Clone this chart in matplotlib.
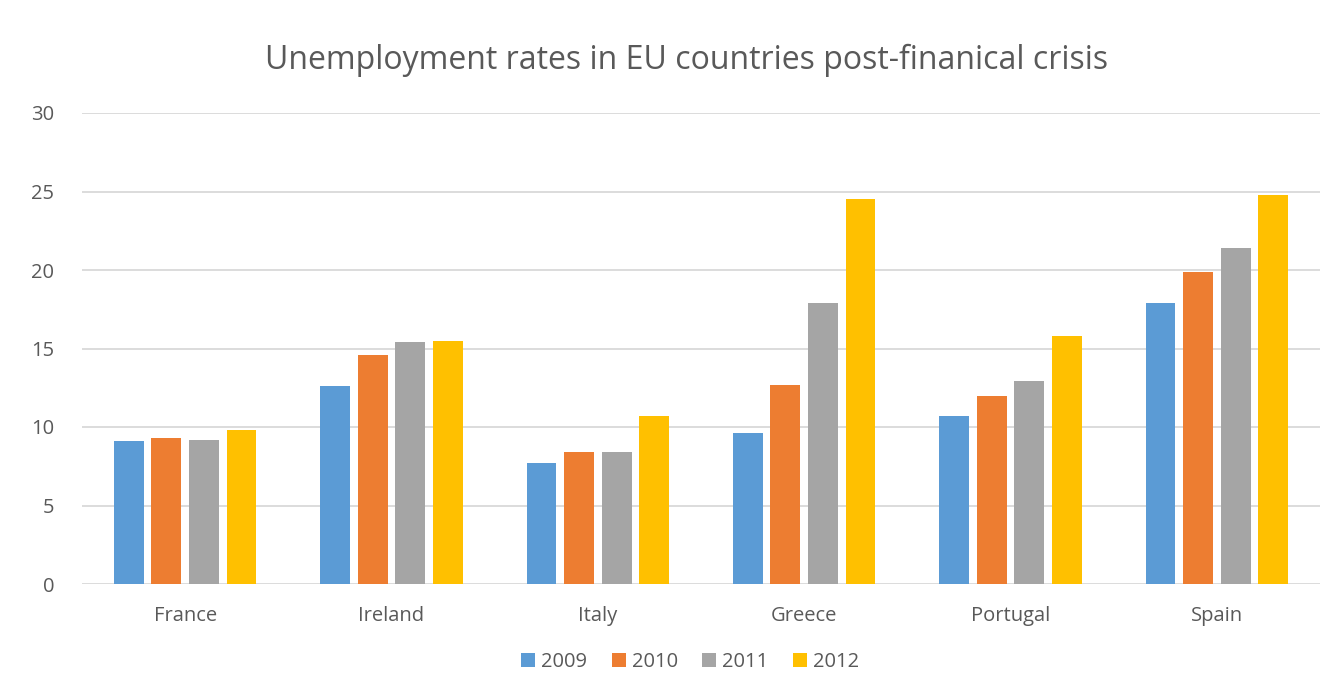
import matplotlib
matplotlib.use("Agg")
import matplotlib.pyplot as plt
import numpy as np

countries = ["France", "Ireland", "Italy", "Greece", "Portugal", "Spain"]
years = ["2009", "2010", "2011", "2012"]
v2009 = [9.1, 12.6, 7.7, 9.6, 10.7, 17.9]
v2010 = [9.3, 14.6, 8.4, 12.7, 12.0, 19.9]
v2011 = [9.2, 15.4, 8.4, 17.9, 12.9, 21.4]
v2012 = [9.8, 15.5, 10.7, 24.5, 15.8, 24.8]
series = [v2009, v2010, v2011, v2012]
colors = ["#5B9BD5", "#ED7D31", "#A5A5A5", "#FFC000"]

plt.rcParams['font.family'] = ['Open Sans', 'DejaVu Sans']
txt = "#595959"

fig = plt.figure(figsize=(13.2, 6.74), dpi=100)
ax = fig.add_axes([82/1320, 1-584/674, 1238/1320, (584-113)/674])

x = np.arange(len(countries))
step = 0.182
w = 0.145
for j, (vals, c, y) in enumerate(zip(series, colors, years)):
    ax.bar(x + (j - 1.5) * step, vals, width=w, color=c, label=y, zorder=3)

ax.set_xlim(-0.5, len(countries) - 0.5)
ax.set_ylim(0, 30)
ax.set_yticks(range(0, 31, 5))
ax.grid(axis='y', color='#D9D9D9', linewidth=1.3, zorder=0)
ax.set_xticks(x)
ax.set_xticklabels(countries)
for s in ax.spines.values():
    s.set_visible(False)
ax.tick_params(axis='both', length=0, labelsize=14.5, colors=txt)
ax.tick_params(axis='x', pad=16)
ax.tick_params(axis='y', pad=20)

fig.text(687/1320, 1-60/674, "Unemployment rates in EU countries post-finanical crisis",
         ha='center', va='center', fontsize=23, color=txt)

leg = fig.legend(loc='center', bbox_to_anchor=(690/1320, 1-662/674), ncol=4, frameon=False,
                 fontsize=14.5, handlelength=0.7, handleheight=0.7, handletextpad=0.3,
                 columnspacing=1.2, labelcolor=txt, borderpad=0.1)

fig.savefig("out.png", dpi=100)
